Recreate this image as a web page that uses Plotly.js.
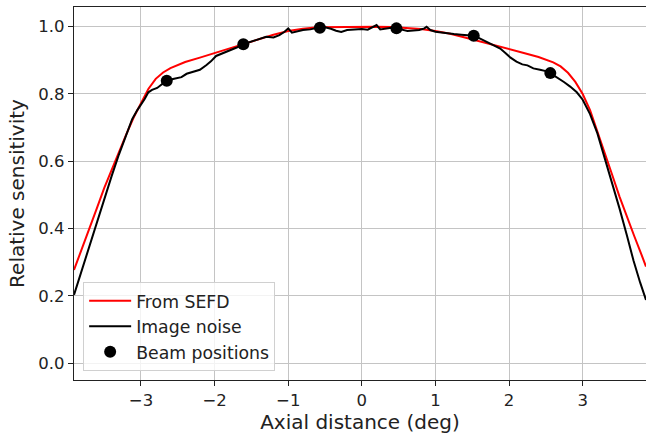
<!DOCTYPE html>
<html>
<head>
<meta charset="utf-8">
<script src="https://cdn.plot.ly/plotly-3.0.1.min.js"></script>
<style>html,body{margin:0;padding:0;background:#fff;}#chart{width:646px;height:438px;}</style>
</head>
<body>
<div id="chart"></div>
<script>
// From SEFD (red)
var sefdX = [-3.91,-3.8,-3.7,-3.6,-3.5,-3.4,-3.3,-3.2,-3.1,-3.0,-2.9,-2.8,-2.7,-2.6,-2.5,-2.4,-2.2,-2.0,-1.8,-1.6,-1.4,-1.2,-1.0,-0.8,-0.6,-0.4,-0.2,0,0.2,0.4,0.6,0.8,1.0,1.2,1.4,1.6,1.8,2.0,2.2,2.4,2.5,2.6,2.7,2.8,2.9,3.0,3.1,3.2,3.3,3.4,3.5,3.6,3.7,3.8,3.86];
var sefdY = [0.277,0.34,0.40,0.46,0.52,0.575,0.63,0.68,0.73,0.775,0.815,0.845,0.864,0.877,0.887,0.895,0.908,0.922,0.935,0.949,0.963,0.976,0.987,0.994,0.998,0.999,1.0,1.0,1.0,0.999,0.997,0.993,0.987,0.979,0.968,0.957,0.945,0.933,0.922,0.91,0.903,0.894,0.882,0.863,0.836,0.80,0.752,0.69,0.625,0.56,0.495,0.435,0.378,0.322,0.287];
// Image noise (black)
var noiseX = [-3.91,-3.8,-3.7,-3.6,-3.5,-3.4,-3.3,-3.2,-3.12,-3.05,-3.0,-2.95,-2.9,-2.85,-2.78,-2.7,-2.65,-2.55,-2.45,-2.38,-2.3,-2.2,-2.11,-2.05,-1.98,-1.9,-1.8,-1.7,-1.61,-1.5,-1.4,-1.3,-1.2,-1.12,-1.05,-1.0,-0.95,-0.88,-0.8,-0.7,-0.6,-0.5,-0.42,-0.35,-0.28,-0.2,-0.1,0.0,0.08,0.16,0.2,0.25,0.32,0.4,0.47,0.55,0.62,0.7,0.78,0.85,0.88,0.93,1.0,1.08,1.15,1.25,1.35,1.45,1.52,1.6,1.7,1.8,1.88,1.95,2.02,2.1,2.18,2.25,2.33,2.42,2.5,2.56,2.65,2.75,2.83,2.92,3.0,3.1,3.2,3.3,3.4,3.5,3.6,3.69,3.78,3.86];
var noiseY = [0.203,0.28,0.35,0.42,0.487,0.555,0.62,0.678,0.725,0.752,0.768,0.785,0.805,0.812,0.818,0.832,0.840,0.845,0.85,0.86,0.866,0.872,0.886,0.897,0.913,0.92,0.929,0.938,0.948,0.955,0.962,0.970,0.968,0.975,0.985,0.995,0.982,0.986,0.99,0.992,0.997,0.998,0.994,0.988,0.984,0.99,0.992,0.993,0.991,1.0,1.005,0.992,0.995,0.997,0.995,0.99,0.987,0.989,0.99,0.995,1.0,0.99,0.985,0.983,0.98,0.978,0.976,0.975,0.973,0.965,0.955,0.945,0.935,0.922,0.908,0.896,0.888,0.885,0.876,0.872,0.868,0.862,0.85,0.835,0.822,0.805,0.783,0.74,0.683,0.61,0.53,0.46,0.38,0.305,0.24,0.188];
// Beam positions
var beamX = [-2.65,-1.61,-0.57,0.47,1.52,2.56];
var beamY = [0.839,0.948,0.997,0.995,0.973,0.862];

var font = 'DejaVu Sans, sans-serif';
var traces = [
  {x: sefdX, y: sefdY, type: 'scatter', mode: 'lines', name: 'From SEFD',
   line: {color: '#ff0000', width: 2}},
  {x: noiseX, y: noiseY, type: 'scatter', mode: 'lines', name: 'Image noise',
   line: {color: '#000000', width: 2}},
  {x: beamX, y: beamY, type: 'scatter', mode: 'markers', name: 'Beam positions',
   marker: {color: '#000000', size: 12}}
];
var layout = {
  width: 646, height: 438,
  margin: {l: 74, r: 0, t: 7, b: 58},
  paper_bgcolor: '#fff', plot_bgcolor: '#fff',
  font: {family: font, size: 16, color: '#222'},
  showlegend: true,
  legend: {x: 0.016, y: 0.024, xanchor: 'left', yanchor: 'bottom', itemwidth: 42, traceorder: 'normal',
           bgcolor: 'rgba(255,255,255,0.8)', bordercolor: '#d0d0d0', borderwidth: 1,
           font: {family: font, size: 17.3, color: '#222'}},
  xaxis: {range: [-3.91, 3.86], dtick: 1, tick0: 0, showgrid: true, gridcolor: '#c4c4c4', gridwidth: 1,
          zeroline: false, showline: true, linecolor: '#222', linewidth: 1.3, mirror: true,
          ticks: 'outside', ticklen: 5, tickcolor: '#222', tickfont: {family: font, size: 16.5, color: '#222'},
          title: {text: 'Axial distance (deg)', font: {family: font, size: 20, color: '#222'}, standoff: 6}},
  yaxis: {range: [-0.05, 1.0585], dtick: 0.2, tick0: 0, tickformat: '.1f', showgrid: true, gridcolor: '#c4c4c4', gridwidth: 1,
          zeroline: false, showline: true, linecolor: '#222', linewidth: 1.3, mirror: false,
          ticks: 'outside', ticklen: 5, tickcolor: '#222', tickfont: {family: font, size: 16.5, color: '#222'},
          title: {text: 'Relative sensitivity', font: {family: font, size: 20, color: '#222'}, standoff: 8}}
};
Plotly.newPlot('chart', traces, layout, {displayModeBar: false, staticPlot: true});
</script>
</body>
</html>
